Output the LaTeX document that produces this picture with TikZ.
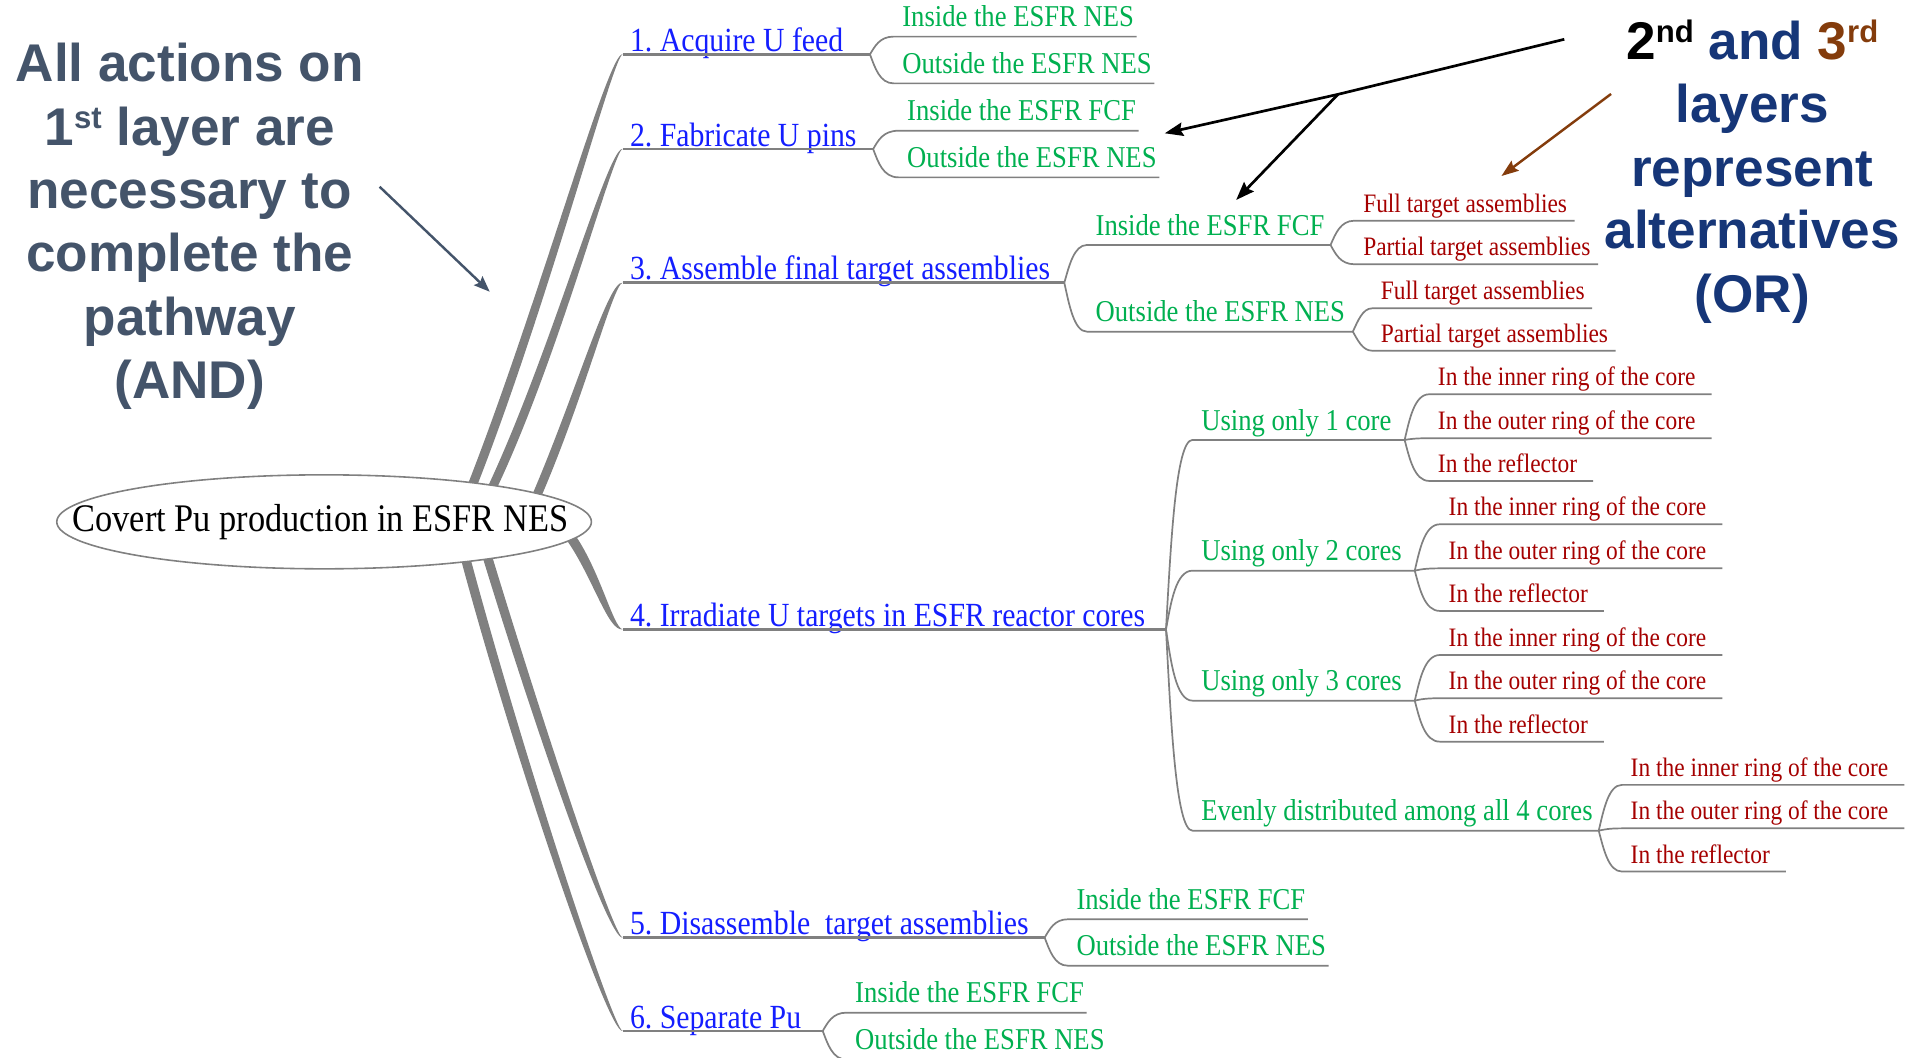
\documentclass[tikz,border=0pt]{standalone}
\usepackage{fontspec}
\usetikzlibrary{arrows.meta,calc,shapes.geometric}
\newfontfamily\mmfont{Liberation Serif}[FakeStretch=0.88]
\newfontfamily\anfont{Liberation Sans}
\frenchspacing
\definecolor{lblue}{RGB}{20,30,255}
\definecolor{lgreen}{RGB}{0,176,80}
\definecolor{lred}{RGB}{165,0,0}
\definecolor{lgray}{RGB}{128,128,128}
\definecolor{slate}{RGB}{68,84,106}
\definecolor{orblue}{RGB}{22,54,120}
\definecolor{obrown}{RGB}{132,60,12}
\pgfdeclarelayer{bgpaper}
\pgfdeclarelayer{strands}
\pgfsetlayers{bgpaper,strands,main}
\tikzset{
  lone/.style={font=\mmfont\frenchspacing\fontsize{27.7}{30}\selectfont, text=lblue, inner sep=0pt, anchor=base west},
  ltwo/.style={font=\mmfont\fontsize{24.8}{28}\selectfont, text=lgreen, inner sep=0pt, anchor=base west},
  lthree/.style={font=\mmfont\fontsize{21.8}{24}\selectfont, text=lred, inner sep=0pt, anchor=base west},
  strandfill/.style={fill=lgray, draw=none},
  ulone/.style={draw=lgray, line width=2pt},
  conn/.style={draw=lgray, line width=1.4pt},
  note/.style={font=\anfont\bfseries\fontsize{43.5}{52}\selectfont, inner sep=0pt, anchor=base},
  tipstyle/.style={-{Stealth[length=15pt,width=11pt,inset=2pt]}},
}
\newcommand\supr[1]{\raisebox{13.7pt}{\fontsize{25.5}{26}\selectfont #1}}
\newcommand\mmB[4]{\node[ltwo] (#1) at (#2,{8-#3}) {#4};\coordinate (#1s) at ({#2-7},{-#3});}
\newcommand\mmC[4]{\node[lthree] (#1) at (#2,{7-#3}) {#4};\coordinate (#1s) at ({#2-7},{-#3});}
\newcommand\leafB[1]{\coordinate (#1e) at ($(#1.base east)+(2,-8)$);}
\newcommand\leafC[2]{\coordinate (#1e) at ($(#1.base east)+(#2,-7)$);}
\newcommand\mmlink[3]{\draw[conn] let \p1=(#1), \p2=(#2) in (#1) .. controls (\x1+4pt,{\y1+0.45*(\y2-\y1)}) and (\x1+8pt,\y2) .. (#2) -- (#3);}
\begin{document}
\begin{tikzpicture}[x=1pt,y=1pt]
\begin{pgfonlayer}{bgpaper}
\fill[white] (0,0) rectangle (1568,-866);
\end{pgfonlayer}
\useasboundingbox (0,0) rectangle (1568,-866);

% root
\node[ellipse, draw=lgray, fill=white, line width=1.3pt, minimum width=438pt, minimum height=77pt, inner sep=0pt] (root) at (265.5,-427.5) {};
\node[font=\mmfont\fontsize{32}{36}\selectfont, inner sep=0pt] (roottxt) at ($(root.center)+(-3,0)$) {Covert Pu production in ESFR NES};

% level 1
\node[lone] (n1) at (516,-42.2) {1. Acquire U feed};
\coordinate (n1s) at (510,-44.5); \coordinate (n1f) at (712.7,-44.5);
\node[lone] (n2) at (516,-119.8) {2. Fabricate U pins};
\coordinate (n2s) at (510,-122.1); \coordinate (n2f) at (715.3,-122.1);
\node[lone] (n3) at (516,-229.3) {3. Assemble final target assemblies};
\coordinate (n3s) at (510,-231.6); \coordinate (n3f) at (871.9,-231.6);
\node[lone] (n4) at (516,-513.3) {4. Irradiate U targets in ESFR reactor cores};
\coordinate (n4s) at (510,-515.6); \coordinate (n4f) at (955.2,-515.6);
\node[lone] (n5) at (516,-765.8) {5. Disassemble\ \ target assemblies};
\coordinate (n5s) at (510,-768.1); \coordinate (n5f) at (855.8,-768.1);
\node[lone] (n6) at (516,-842.3) {6. Separate Pu};
\coordinate (n6s) at (510,-844.6); \coordinate (n6f) at (674,-844.6);
\foreach \n in {n1,n2,n3,n4,n5,n6} {\draw[ulone] (\n s) -- (\n f);}

% strands from root to level 1
\begin{pgfonlayer}{strands}
\fill[strandfill] ($(root.center)+(116.5,27.5)$) .. controls (441,-250) and (498,-42.5) .. (n1s) .. controls (502,-46.5) and (449,-250) .. ($(root.center)+(124.5,27.5)$) -- cycle;
\fill[strandfill] ($(root.center)+(133.5,27.5)$) .. controls (451,-290) and (498,-120.1) .. (n2s) .. controls (502,-124.1) and (459,-290) .. ($(root.center)+(141.5,27.5)$) -- cycle;
\fill[strandfill] ($(root.center)+(168.5,17.5)$) .. controls (471,-325) and (498,-229.6) .. (n3s) .. controls (502,-233.6) and (479,-325) .. ($(root.center)+(176.5,17.5)$) -- cycle;
\fill[strandfill] ($(root.center)+(197.3,-12.9)$) .. controls (484.8,-470.4) and (498,-517.6) .. (n4s) .. controls (502,-513.6) and (491.2,-465.6) .. ($(root.center)+(203.7,-8.1)$) -- cycle;
\fill[strandfill] ($(root.center)+(128.5,-24.5)$) .. controls (436,-590) and (498,-770.1) .. (n5s) .. controls (502,-766.1) and (444,-590) .. ($(root.center)+(136.5,-24.5)$) -- cycle;
\fill[strandfill] ($(root.center)+(111.5,-28.5)$) .. controls (421,-620) and (498,-846.6) .. (n6s) .. controls (502,-842.6) and (429,-620) .. ($(root.center)+(119.5,-28.5)$) -- cycle;
\end{pgfonlayer}

% level 2
\mmB{a1}{739}{30.0}{Inside the ESFR NES}
\mmB{a2}{739}{68.3}{Outside the ESFR NES}
\mmB{b1}{743}{107.1}{Inside the ESFR FCF}
\mmB{b2}{743}{145.3}{Outside the ESFR NES}
\mmB{c1}{897.4}{200.7}{Inside the ESFR FCF}
\mmB{c2}{897.4}{271.7}{Outside the ESFR NES}
\mmB{d1}{983.9}{360.4}{Using only 1 core}
\mmB{d2}{983.9}{467.5}{Using only 2 cores}
\mmB{d3}{983.9}{574}{Using only 3 cores}
\mmB{d4}{983.9}{680.5}{Evenly distributed among all 4 cores}
\mmB{e1}{881.7}{753.1}{Inside the ESFR FCF}
\mmB{e2}{881.7}{791.1}{Outside the ESFR NES}
\mmB{f1}{700.4}{829.6}{Inside the ESFR FCF}
\mmB{f2}{700.4}{868}{Outside the ESFR NES}
\leafB{a1}\leafB{a2}\leafB{b1}\leafB{b2}\leafB{e1}\leafB{e2}\leafB{f1}\leafB{f2}
\coordinate (c1f) at (1090,-200.7);
\coordinate (c2f) at (1108.3,-271.7);
\coordinate (d1f) at (1150.7,-360.4);
\coordinate (d2f) at (1159,-467.5);
\coordinate (d3f) at (1159,-574);
\coordinate (d4f) at (1309.7,-680.5);

% level 3
\mmC{c1a}{1116.6}{180.8}{Full target assemblies}
\mmC{c1b}{1116.6}{216.5}{Partial target assemblies}
\mmC{c2a}{1131}{252.6}{Full target assemblies}
\mmC{c2b}{1131}{287.3}{Partial target assemblies}
\mmC{d1a}{1177.8}{323}{In the inner ring of the core}
\mmC{d1b}{1177.8}{359}{In the outer ring of the core}
\mmC{d1c}{1177.8}{394}{In the reflector}
\mmC{d2a}{1186.6}{429.5}{In the inner ring of the core}
\mmC{d2b}{1186.6}{465.6}{In the outer ring of the core}
\mmC{d2c}{1186.6}{500.5}{In the reflector}
\mmC{d3a}{1186.6}{536.6}{In the inner ring of the core}
\mmC{d3b}{1186.6}{572}{In the outer ring of the core}
\mmC{d3c}{1186.6}{607.6}{In the reflector}
\mmC{d4a}{1335.7}{643}{In the inner ring of the core}
\mmC{d4b}{1335.7}{678.6}{In the outer ring of the core}
\mmC{d4c}{1335.7}{714}{In the reflector}
\leafC{c1a}{6}\leafC{c1b}{6}\leafC{c2a}{6}\leafC{c2b}{6}
\foreach \n in {d1a,d1b,d1c,d2a,d2b,d2c,d3a,d3b,d3c,d4a,d4b,d4c} {\leafC{\n}{13}}

% connectors
\mmlink{n1f}{a1s}{a1e}\mmlink{n1f}{a2s}{a2e}
\mmlink{n2f}{b1s}{b1e}\mmlink{n2f}{b2s}{b2e}
\mmlink{n3f}{c1s}{c1f}\mmlink{n3f}{c2s}{c2f}
\mmlink{n4f}{d1s}{d1f}\mmlink{n4f}{d2s}{d2f}\mmlink{n4f}{d3s}{d3f}\mmlink{n4f}{d4s}{d4f}
\mmlink{n5f}{e1s}{e1e}\mmlink{n5f}{e2s}{e2e}
\mmlink{n6f}{f1s}{f1e}\mmlink{n6f}{f2s}{f2e}
\mmlink{c1f}{c1as}{c1ae}\mmlink{c1f}{c1bs}{c1be}
\mmlink{c2f}{c2as}{c2ae}\mmlink{c2f}{c2bs}{c2be}
\foreach \q in {d1,d2,d3,d4} {
  \mmlink{\q f}{\q as}{\q ae}\mmlink{\q f}{\q bs}{\q be}\mmlink{\q f}{\q cs}{\q ce}
}

% left note
\node[note, text=slate] (and1) at (155.5,-66.9) {All actions on};
\node[note, text=slate] (and2) at (155.5,-118.8) {1\supr{st} layer are};
\node[note, text=slate] (and3) at (155.5,-170.7) {necessary to};
\node[note, text=slate] (and4) at (155.5,-222.6) {complete the};
\node[note, text=slate] (and5) at (155.5,-274.5) {pathway};
\node[note, text=slate] (and6) at (155.5,-326.4) {(AND)};
% right note
\node[note, text=orblue] (or1) at (1435.5,-48.6) {\textcolor{black}{2\supr{nd}} and \textcolor{obrown}{3\supr{rd}}};
\node[note, text=orblue] (or2) at (1435.5,-100.3) {layers};
\node[note, text=orblue] (or3) at (1435.5,-152.6) {represent};
\node[note, text=orblue] (or4) at (1435.5,-203.8) {alternatives};
\node[note, text=orblue] (or5) at (1435.5,-256) {(OR)};

% arrows
\coordinate (la0) at (311,-153);
\coordinate (la1) at (401.2,-239);
\draw[line width=2pt, color=slate, -{Stealth[length=13pt,width=10pt,inset=2pt]}] (la0) -- (la1);
\coordinate (bk0) at (1281.5,-32.2);
\coordinate (bk1) at (1096.1,-77.3);
\coordinate (bkA) at (954.2,-109.2);
\coordinate (bkB) at (1012.7,-163.8);
\draw[line width=2.2pt, color=black, tipstyle] (bk0) -- (bk1) -- (bkA);
\draw[line width=2.2pt, color=black, tipstyle] (bk1) -- (bkB);
\coordinate (br0) at (1319.8,-77);
\coordinate (br1) at (1230,-144.2);
\draw[line width=2pt, color=obrown, -{Stealth[length=14pt,width=10pt,inset=2pt]}] (br0) -- (br1);
\end{tikzpicture}
\end{document}
